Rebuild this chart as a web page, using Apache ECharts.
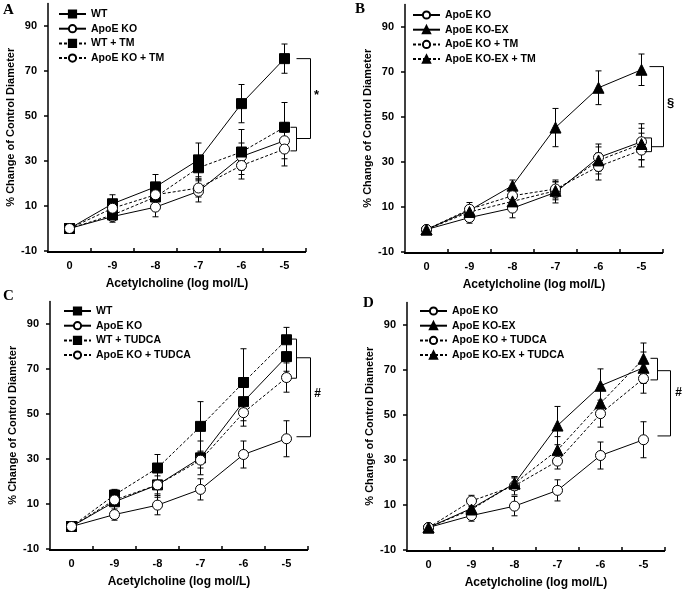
<!DOCTYPE html>
<html><head><meta charset="utf-8">
<script src="https://cdn.jsdelivr.net/npm/echarts@6/dist/echarts.min.js"></script>
<style>html,body{margin:0;padding:0;background:#fff}#c{width:685px;height:593px}</style>
</head><body><div id="c"></div>
<script>
// ---- data ----
const cats = ['0', '-9', '-8', '-7', '-6', '-5'];
const yTicks = [-10, 10, 30, 50, 70, 90];

const wt = [0, 11, 18.5, 30.5, 55.5, 75.5];
const wtErr = [0, 4, 5.5, 7.5, 8.5, 6.5];
const ko = [0, 5.3, 9.5, 16.5, 32, 39];
const koErr = [0, 2.5, 4.3, 4.7, 6, 8];
const koEx = [0, 8.5, 19.5, 45.3, 63, 71];
const koExErr = [0, 2, 2.5, 8.5, 7.5, 7];
const wtTm = [0, 6, 14, 27, 34, 45];
const wtTmErr = [0, 2, 3, 5, 10, 11];
const koTm = [0, 9, 15, 18, 28, 35.3];
const koTmErr = [0, 3, 3, 4, 6, 7.5];
const koExTm = [0, 7.8, 12.5, 17.2, 30.7, 38];
const koExTmErr = [0, 2, 3, 4, 6, 7];
const wtTu = [0, 14, 26, 44.5, 64, 83];
const wtTuErr = [0, 2.5, 6, 11, 15, 5.5];
const koTu = [0, 11.8, 18.5, 29.5, 50.6, 66.2];
const koTuErr = [0, 2.5, 4, 3.5, 6, 6.5];
const koExTu = [0, 8, 19.6, 34.4, 55.2, 75];
const koExTuErr = [0, 2, 3, 6, 6, 7];

// significance brackets: [smallTop, smallBottom, bigTop, bigBottom]
const bracketA = [45, 34.5, 75.5, 40];
const bracketB = [40.7, 34.6, 72.4, 36.8];
const bracketC = [83.3, 65.9, 75, 39.9];
const bracketD = [75.2, 65.6, 69.7, 40.7];

// ---- layout ----
const FONT = 'Liberation Sans';
const panels = [
  { letter: 'A', lx: 3, ly: 3, grid: { left: 48, top: 3.5, width: 258, height: 247.5 }, legend: { left: 58, top: 8 },
    series: [['WT', wt, wtErr, 'rect', true, false], ['ApoE KO', ko, koErr, 'circle', false, false],
             ['WT + TM', wtTm, wtTmErr, 'rect', true, true], ['ApoE KO + TM', koTm, koTmErr, 'circle', false, true]],
    bracket: bracketA, off: [6, 12, 12, 12, 26], mark: '*', markX: 32, markY: 59, markSize: 13 },
  { letter: 'B', lx: 355, ly: 2, grid: { left: 405, top: 4.5, width: 258, height: 247.5 }, legend: { left: 412, top: 9 },
    series: [['ApoE KO', ko, koErr, 'circle', false, false], ['ApoE KO-EX', koEx, koExErr, 'triangle', true, false],
             ['ApoE KO + TM', koTm, koTmErr, 'circle', false, true], ['ApoE KO-EX + TM', koExTm, koExTmErr, 'triangle', true, true]],
    bracket: bracketB, off: [3, 10, 8, 10, 22], mark: '§', markX: 29, markY: 56, markSize: 13 },
  { letter: 'C', lx: 3, ly: 289, grid: { left: 50, top: 301.5, width: 258, height: 247.5 }, legend: { left: 63, top: 305 },
    series: [['WT', wt, wtErr, 'rect', true, false], ['ApoE KO', ko, koErr, 'circle', false, false],
             ['WT + TUDCA', wtTu, wtTuErr, 'rect', true, true], ['ApoE KO + TUDCA', koTu, koTuErr, 'circle', false, true]],
    bracket: bracketC, off: [5, 10, 10, 10, 24], mark: '#', markX: 31, markY: 59, markSize: 12 },
  { letter: 'D', lx: 363, ly: 296, grid: { left: 407, top: 302.5, width: 258, height: 247.5 }, legend: { left: 419, top: 305 },
    series: [['ApoE KO', ko, koErr, 'circle', false, false], ['ApoE KO-EX', koEx, koExErr, 'triangle', true, false],
             ['ApoE KO + TUDCA', koTu, koTuErr, 'circle', false, true], ['ApoE KO-EX + TUDCA', koExTu, koExTuErr, 'triangle', true, true]],
    bracket: bracketD, off: [7, 14, 14, 14, 27], mark: '#', markX: 35, markY: 59.8, markSize: 12 }
];

const option = { animation: false, backgroundColor: '#fff', grid: [], xAxis: [], yAxis: [], legend: [], series: [], graphic: [] };

function errRender(params, api) {
  const x = api.value(0), lo = api.value(1), hi = api.value(2);
  const p1 = api.coord([x, lo]), p2 = api.coord([x, hi]);
  const w = 3, st = { stroke: '#000', lineWidth: 1 };
  return { type: 'group', children: [
    { type: 'line', shape: { x1: p1[0], y1: p1[1], x2: p2[0], y2: p2[1] }, style: st },
    { type: 'line', shape: { x1: p1[0] - w, y1: p1[1], x2: p1[0] + w, y2: p1[1] }, style: st },
    { type: 'line', shape: { x1: p2[0] - w, y1: p2[1], x2: p2[0] + w, y2: p2[1] }, style: st }
  ] };
}

// x-axis baseline with inside ticks at category boundaries, placed through the axes' own scales
function baseRender(params, api) {
  const yMin = api.value(1);
  const p0 = api.coord([0, yMin]), p5 = api.coord([cats.length - 1, yMin]);
  const bw = api.size([1, 0], [0, yMin])[0];
  const x0 = p0[0] - bw / 2, x1 = p5[0] + bw / 2, yb = Math.round(p0[1]) + 1;
  const st = { stroke: '#000', lineWidth: 2 };
  const children = [{ type: 'line', shape: { x1: x0 - 1, y1: yb, x2: x1, y2: yb }, style: st }];
  for (let i = 1; i <= cats.length; i++) {
    const xt = x0 + i * bw;
    children.push({ type: 'line', shape: { x1: xt, y1: yb, x2: xt, y2: yb - 4 }, style: { stroke: '#000', lineWidth: 1.5 } });
  }
  return { type: 'group', children: children };
}

panels.forEach((p, gi) => {
  option.grid.push(p.grid);
  option.xAxis.push({
    type: 'category', gridIndex: gi, data: cats, boundaryGap: true, position: 'bottom',
    name: 'Acetylcholine (log mol/L)', nameLocation: 'middle', nameGap: 27,
    nameTextStyle: { fontFamily: FONT, fontWeight: 'bold', fontSize: 12, color: '#000' },
    axisLine: { show: false, onZero: false },
    axisTick: { show: false },
    axisLabel: { fontFamily: FONT, fontWeight: 'bold', fontSize: 11, color: '#000', margin: 9 },
    splitLine: { show: false }
  });
  option.yAxis.push({
    type: 'value', gridIndex: gi, min: -10, max: 100, position: 'left',
    name: '% Change of Control Diameter', nameLocation: 'middle', nameGap: 32,
    nameTextStyle: { fontFamily: FONT, fontWeight: 'bold', fontSize: 11, color: '#000' },
    axisLine: { show: true, lineStyle: { color: '#000', width: 1.5 } },
    axisTick: { show: true, length: 4, lineStyle: { color: '#000', width: 1.5 }, customValues: yTicks },
    axisLabel: { fontFamily: FONT, fontWeight: 'bold', fontSize: 11, color: '#000', margin: 11, customValues: yTicks },
    splitLine: { show: false }
  });
  option.legend.push({
    orient: 'vertical', left: p.legend.left, top: p.legend.top,
    itemWidth: 27, itemHeight: 9, itemGap: 2.7, padding: 0,
    textStyle: { fontFamily: FONT, fontWeight: 'bold', fontSize: 10.5, color: '#000', lineHeight: 12 },
    data: p.series.map(s => s[0])
  });
  p.series.forEach(s => {
    const errData = [];
    s[1].forEach((v, i) => { if (s[2][i] > 0) errData.push([i, v - s[2][i], v + s[2][i]]); });
    option.series.push({ type: 'custom', xAxisIndex: gi, yAxisIndex: gi, renderItem: errRender,
      data: errData, encode: { x: 0, y: [1, 2] }, silent: true, z: 1 });
  });
  p.series.forEach(s => {
    option.series.push({
      type: 'line', name: s[0], xAxisIndex: gi, yAxisIndex: gi, data: s[1],
      symbol: s[3], symbolSize: s[3] === 'triangle' ? 11 : 10, showAllSymbol: true,
      itemStyle: { color: s[4] ? '#000' : '#fff', borderColor: '#000', borderWidth: 1 },
      lineStyle: { color: '#000', width: 1, type: s[5] ? [3, 2] : 'solid' },
      z: 2
    });
  });
  const b = p.bracket, o = p.off;
  option.series.push({
    type: 'custom', xAxisIndex: gi, yAxisIndex: gi, silent: true, z: 3,
    data: [[5, b[0], b[1], b[2], b[3], p.markY]],
    renderItem: function (params, api) {
      const cx = api.coord([5, 0])[0];
      const y = v => api.coord([5, v])[1];
      const st = { stroke: '#000', lineWidth: 1, fill: null };
      const sT = y(api.value(1)), sB = y(api.value(2)), bT = y(api.value(3)), bB = y(api.value(4));
      return { type: 'group', children: [
        { type: 'polyline', shape: { points: [[cx + o[0], sT], [cx + o[1], sT], [cx + o[1], sB], [cx + o[0], sB]] }, style: st },
        { type: 'polyline', shape: { points: [[cx + o[2], bT], [cx + o[4], bT], [cx + o[4], bB], [cx + o[3], bB]] }, style: st },
        { type: 'text', x: cx + p.markX, y: y(api.value(5)),
          style: { text: p.mark, fontFamily: FONT, fontWeight: 'bold', fontSize: p.markSize, fill: '#000', align: 'center', verticalAlign: 'middle' } }
      ] };
    }
  });
  option.series.push({
    type: 'custom', xAxisIndex: gi, yAxisIndex: gi, silent: true, z: 100, zlevel: 1, clip: false,
    data: [[0, -10]], renderItem: baseRender
  });
  option.graphic.push({ type: 'text', left: p.lx, top: p.ly,
    style: { text: p.letter, fontFamily: 'Liberation Serif', fontWeight: 'bold', fontSize: 15, fill: '#000' } });
});

const chart = echarts.init(document.getElementById('c'), null, { renderer: 'canvas' });
chart.setOption(option);
</script></body></html>
